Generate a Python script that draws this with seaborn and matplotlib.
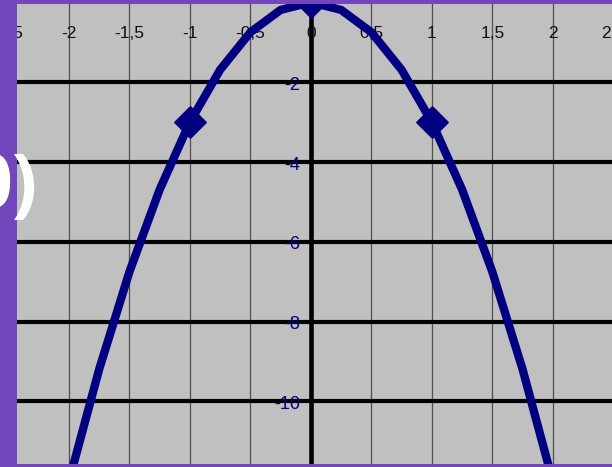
# Parabola estilo Excel (recorte de diapositiva)
import pandas as pd
import matplotlib
matplotlib.use('Agg')
import matplotlib.pyplot as plt
import seaborn as sns

# Datos de la curva
x_curva = [-2.0, -1.75, -1.5, -1.25, -1.0, -0.75, -0.5, -0.25, 0.0,
           0.25, 0.5, 0.75, 1.0, 1.25, 1.5, 1.75, 2.0]
y_curva = [-12.0, -9.19, -6.75, -4.69, -3.0, -1.69, -0.75, -0.19, 0.0,
           -0.19, -0.75, -1.69, -3.0, -4.69, -6.75, -9.19, -12.0]

# Puntos marcados
x_puntos = [-1.0, 0.0, 1.0]
y_puntos = [-3.0, 0.0, -3.0]

# Etiquetas de los ejes
x_ticks = [-2.5, -2.0, -1.5, -1.0, -0.5, 0.0, 0.5, 1.0, 1.5, 2.0, 2.5]
x_etiquetas = ['-2,5', '-2', '-1,5', '-1', '-0,5', '0', '0,5', '1', '1,5', '2', '2,5']
y_ticks = [-2, -4, -6, -8, -10]
y_etiquetas = ['-2', '-4', '-6', '-8', '-10']

morado = '#7446BB'
azul = '#000080'

df_curva = pd.DataFrame({'x': x_curva, 'y': y_curva})
df_puntos = pd.DataFrame({'x': x_puntos, 'y': y_puntos})

fig = plt.figure(figsize=(6.12, 4.67), dpi=100, facecolor=morado)
ax = fig.add_axes([17 / 612, 3 / 467, 1 - 17 / 612, 1 - 6.5 / 467])
ax.set_facecolor('#C0C0C0')
ax.set_xlim(-2.43, 2.49)
ax.set_ylim(-11.57, -0.03)

# Rejilla
for xv in x_ticks:
    ax.axvline(xv, color='#505050', lw=0.9, zorder=1)
for yv in y_ticks:
    ax.axhline(yv, color='black', lw=3, zorder=1)

# Etiquetas dentro del gráfico
for xv, et in zip(x_ticks, x_etiquetas):
    ax.text(xv, -0.77, et, ha='center', va='center', fontsize=12.5,
            family='Liberation Sans', color='#111111', zorder=1.5, clip_on=True)
for yv, et in zip(y_ticks, y_etiquetas):
    ax.text(-0.09, yv - 0.08, et, ha='right', va='center', fontsize=13,
            family='Liberation Sans', color=azul, zorder=1.5, clip_on=True)

# Eje vertical
ax.axvline(0, color='black', lw=3.3, zorder=2)

# Curva y puntos
sns.lineplot(data=df_curva, x='x', y='y', sort=False, color=azul, lw=6,
             ax=ax, zorder=3)
sns.scatterplot(data=df_puntos, x='x', y='y', marker='D', s=250, color=azul,
                edgecolor=azul, ax=ax, zorder=4)

ax.set_xticks([])
ax.set_yticks([])
ax.set_xlabel('')
ax.set_ylabel('')
for s in ax.spines.values():
    s.set_visible(False)

# Texto recortado de la diapositiva
fig.text(37 / 612, 1 - 189 / 467, '0)', ha='right', va='center', fontsize=54,
         fontweight='bold', family='Open Sans', color='white')

fig.savefig('out.png', dpi=100, facecolor=morado)
